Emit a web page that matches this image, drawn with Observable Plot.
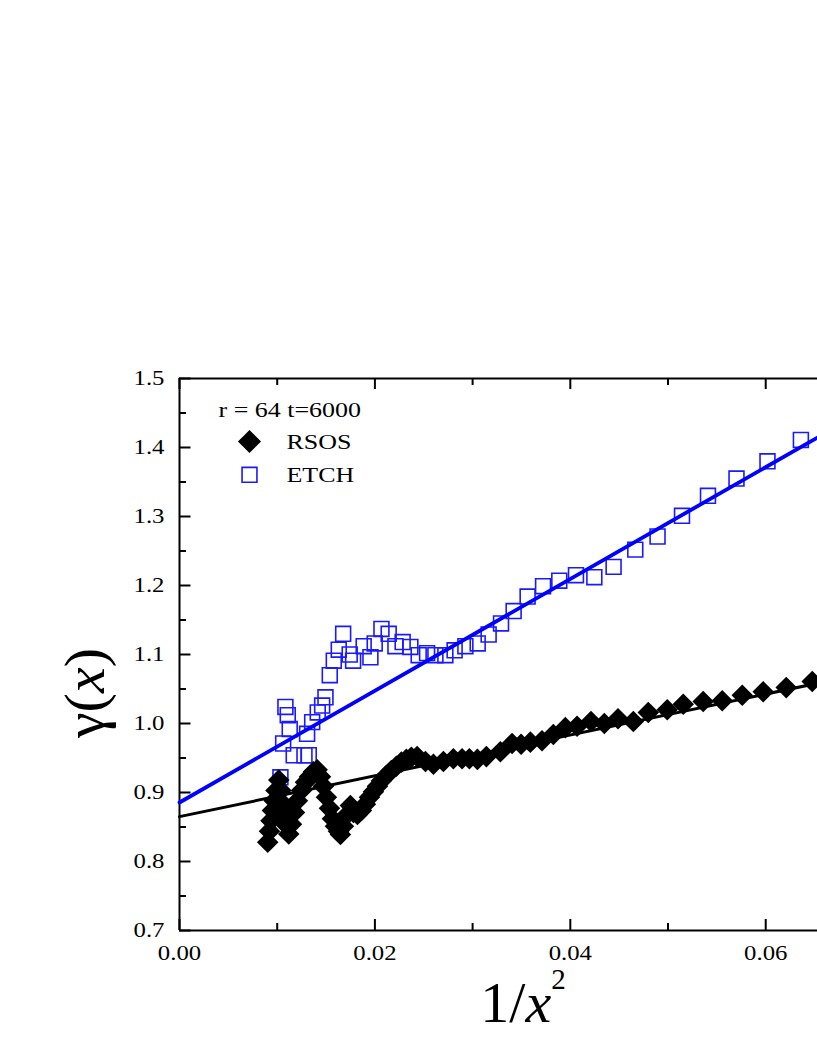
<!DOCTYPE html>
<html><head><meta charset="utf-8">
<script src="https://cdn.jsdelivr.net/npm/d3@7"></script>
<script src="https://cdn.jsdelivr.net/npm/@observablehq/plot@0.6"></script>
<style>body{margin:0;background:#fff;overflow:hidden}#chart{width:817px;height:1058px}</style>
</head><body><div id="chart"></div>
<script>
// ---- data ----
const rsosX = [0.00903,0.00921,0.00936,0.00951,0.00969,0.00987,0.01016,0.01038,0.01057,0.01077,0.01098,0.01118,0.01146,0.01177,0.01207,0.01248,0.01289,0.0133,0.01371,0.01409,0.01443,0.01473,0.01504,0.01535,0.01565,0.01596,0.01627,0.01647,0.01678,0.01708,0.01749,0.0178,0.01821,0.01862,0.01903,0.01944,0.01985,0.02026,0.02067,0.02118,0.02169,0.0222,0.02271,0.02322,0.02373,0.02432,0.02517,0.02599,0.02701,0.02803,0.02892,0.02967,0.03049,0.03141,0.03284,0.03404,0.03496,0.03591,0.0371,0.03826,0.03949,0.04069,0.04212,0.04348,0.04488,0.04645,0.04798,0.04992,0.05156,0.0536,0.05555,0.0576,0.05974,0.0621,0.06476];
const rsosY = [0.828,0.844,0.859,0.874,0.888,0.903,0.918,0.903,0.884,0.867,0.852,0.840,0.854,0.871,0.888,0.903,0.915,0.923,0.930,0.933,0.923,0.909,0.893,0.877,0.862,0.851,0.844,0.839,0.851,0.867,0.881,0.871,0.868,0.874,0.883,0.893,0.901,0.909,0.917,0.925,0.932,0.938,0.944,0.948,0.951,0.952,0.945,0.941,0.945,0.949,0.949,0.949,0.948,0.952,0.959,0.971,0.970,0.973,0.975,0.984,0.994,0.996,1.003,1.000,1.007,1.003,1.016,1.020,1.028,1.032,1.033,1.041,1.046,1.052,1.061];
const etchX = [0.01033,0.01061,0.01084,0.01108,0.01128,0.01169,0.01279,0.01306,0.01323,0.01358,0.01415,0.0146,0.01494,0.01538,0.01579,0.0163,0.01675,0.01742,0.01777,0.01885,0.01954,0.01998,0.02067,0.02141,0.0221,0.02284,0.02363,0.02448,0.02534,0.02619,0.02721,0.02816,0.02926,0.03052,0.03164,0.03291,0.0342,0.03563,0.03721,0.03887,0.04058,0.04246,0.04443,0.04665,0.04893,0.05143,0.05409,0.05701,0.06018,0.0636];
const etchY = [0.922,0.971,1.024,1.012,0.992,0.954,0.954,0.985,0.954,1.002,1.016,1.026,1.038,1.070,1.091,1.107,1.130,1.100,1.091,1.112,1.096,1.116,1.137,1.130,1.112,1.118,1.111,1.099,1.102,1.099,1.099,1.106,1.112,1.116,1.129,1.145,1.163,1.184,1.199,1.207,1.215,1.212,1.227,1.252,1.271,1.301,1.330,1.355,1.380,1.411];
const rsosFit = [0.865, 2.96];   // intercept, slope
const etchFit = [0.8855, 8.10];  // intercept, slope
const xDomain = [0, 0.0653];
const yDomain = [0.7, 1.5];
const xMajor = [0, 0.02, 0.04, 0.06];
const xMinor = [0.01, 0.03, 0.05];
const yMajor = [0.7, 0.8, 0.9, 1.0, 1.1, 1.2, 1.3, 1.4, 1.5];
const yMinor = [0.75, 0.85, 0.95, 1.05, 1.15, 1.25, 1.35, 1.45];
const legendTitle = "r = 64 t=6000";
const seriesNames = ["RSOS", "ETCH"];

// ---- build tables ----
const rsos = rsosX.map((x, i) => ({x, y: rsosY[i]}));
const etch = etchX.map((x, i) => ({x, y: etchY[i]}));
const fitLine = ([a, b]) => xDomain.map(x => ({x, y: a + b * x}));

const W = 817, H = 1058, mt = 378, mb = 128, ml = 179, mr = 0;
const fw = W - ml - mr, fh = H - mt - mb;
const blue = "#0000ff";
const serif = "'Liberation Serif', 'Times New Roman', serif";

const svg = Plot.plot({
  width: W, height: H,
  marginTop: mt, marginBottom: mb, marginLeft: ml, marginRight: mr,
  style: {fontFamily: serif, fontSize: "21px", background: "white", color: "black"},
  x: {domain: xDomain, label: null},
  y: {domain: yDomain, label: null},
  marks: [
    Plot.ruleY(yDomain, {stroke: "black", strokeWidth: 2}),
    Plot.ruleX([0], {stroke: "black", strokeWidth: 2}),
    Plot.tickY(yMajor, {y: d => d, insetRight: fw - 11.5, stroke: "black", strokeWidth: 2}),
    Plot.tickY(yMinor, {y: d => d, insetRight: fw - 7, stroke: "black", strokeWidth: 2}),
    Plot.tickX(xMajor, {x: d => d, insetTop: fh - 11, stroke: "black", strokeWidth: 2}),
    Plot.tickX(xMinor, {x: d => d, insetTop: fh - 7, stroke: "black", strokeWidth: 2}),
    Plot.tickX(xMajor, {x: d => d, insetBottom: fh - 11, stroke: "black", strokeWidth: 2}),
    Plot.tickX(xMinor, {x: d => d, insetBottom: fh - 7, stroke: "black", strokeWidth: 2}),
    Plot.dot(etch, {x: "x", y: "y", symbol: "square", r: 8.4, fill: "none", stroke: "#1a1aff", strokeWidth: 1.6}),
    Plot.dot(rsos, {x: "x", y: "y", symbol: "diamond2", r: 9.7, fill: "black", stroke: "none"}),
    Plot.line(fitLine(etchFit), {x: "x", y: "y", stroke: blue, strokeWidth: 3.8}),
    Plot.line(fitLine(rsosFit), {x: "x", y: "y", stroke: "black", strokeWidth: 3}),
    Plot.axisY({ticks: yMajor, tickSize: 0, tickPadding: 15, tickFormat: d3.format(".1f"), label: null, fontSize: 21}),
    Plot.axisX({ticks: xMajor, tickSize: 0, tickPadding: 15, tickFormat: d3.format(".2f"), label: null, fontSize: 21}),
    // legend
    Plot.text([legendTitle], {frameAnchor: "top-left", dx: 39, dy: 31, textAnchor: "start", lineAnchor: "middle", fontSize: 22, fill: "black"}),
    Plot.dot([seriesNames[0]], {x: null, y: null, frameAnchor: "top-left", dx: 70, dy: 63, symbol: "diamond2", r: 10.4, fill: "black", stroke: "none"}),
    Plot.text([seriesNames[0]], {frameAnchor: "top-left", dx: 107, dy: 63.5, textAnchor: "start", lineAnchor: "middle", fontSize: 22, fill: "black"}),
    Plot.dot([seriesNames[1]], {x: null, y: null, frameAnchor: "top-left", dx: 70, dy: 96.3, symbol: "square", r: 8.4, fill: "none", stroke: "#1a1aff", strokeWidth: 1.6}),
    Plot.text([seriesNames[1]], {frameAnchor: "top-left", dx: 107, dy: 96, textAnchor: "start", lineAnchor: "middle", fontSize: 22, fill: "black"})
  ]
});

// widen the small serif text slightly, like the original export
d3.select(svg).selectAll("text").each(function() {
  const t = this.getAttribute("transform");
  if (t) this.setAttribute("transform", t + " scale(1.18,1)");
});

// axis titles with italic variable and superscript
const s = d3.select(svg);
const yt = s.append("text")
  .attr("transform", "translate(104,693) rotate(-90)")
  .attr("text-anchor", "middle")
  .attr("font-family", serif)
  .attr("font-size", 58).attr("fill", "black");
yt.append("tspan").text("γ(");
yt.append("tspan").attr("font-style", "italic").text("x");
yt.append("tspan").text(")");

const xt = s.append("text")
  .attr("x", 523).attr("y", 1022)
  .attr("text-anchor", "middle")
  .attr("font-family", serif)
  .attr("font-size", 58).attr("fill", "black");
xt.append("tspan").text("1/");
xt.append("tspan").attr("font-style", "italic").text("x");
xt.append("tspan").attr("font-size", 29).attr("dy", -33).text("2");

document.getElementById("chart").appendChild(svg);
</script>
</body></html>
